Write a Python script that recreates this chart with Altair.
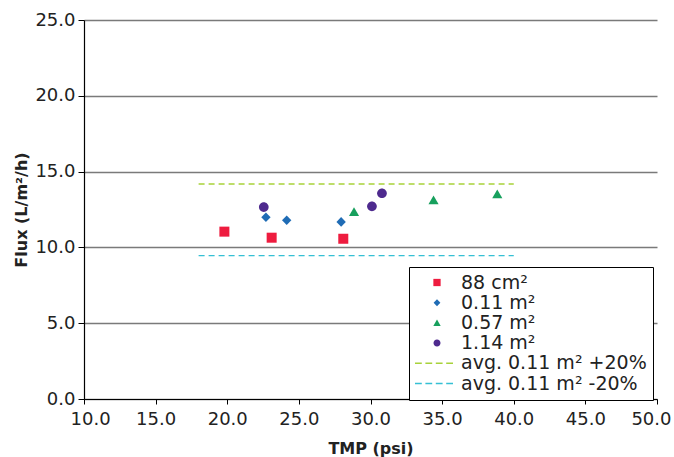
import altair as alt
import pandas as pd

# Measured flux vs. transmembrane pressure for four membrane areas
series_names = ["88 cm²", "0.11 m²", "0.57 m²", "1.14 m²"]
tmp_88cm2 = [19.8, 23.1, 28.1]
flux_88cm2 = [11.04, 10.64, 10.57]
tmp_011 = [22.7, 24.15, 27.95]
flux_011 = [11.99, 11.79, 11.68]
tmp_057 = [28.85, 34.4, 38.85]
flux_057 = [12.35, 13.13, 13.52]
tmp_114 = [22.55, 30.1, 30.8]
flux_114 = [12.66, 12.71, 13.57]

# Reference band: average of the 0.11 m² runs, +/- 20 %
band_names = ["avg. 0.11 m² +20%", "avg. 0.11 m² -20%"]
band_flux = [14.18, 9.46]
band_tmp_start = [18.0, 18.0]
band_tmp_end = [40.0, 40.0]

x_ticks = [10, 15, 20, 25, 30, 35, 40, 45, 50]
y_ticks = [0, 5, 10, 15, 20, 25]

all_names = series_names + band_names
colors = ["#EE1C3F", "#1F6CB5", "#17A05D", "#4E2A8E", "#A8D23A", "#35C0D4"]
band_colors = colors[4:]

# Marker outlines as SVG paths (unit = half the symbol size); the last two
# draw a short dashed stroke used as the legend swatch for the band lines.
sq = "M-0.91,-0.91L0.91,-0.91L0.91,0.91L-0.91,0.91Z"
dia = "M0,-0.88L0.85,0L0,0.88L-0.85,0Z"
tri = "M0,-0.82L0.92,0.78L-0.92,0.78Z"
circ = "M-0.88,0A0.88,0.88,0,1,0,0.88,0A0.88,0.88,0,1,0,-0.88,0Z"
dash = ("M-5.5,-0.17L-3.8,-0.17L-3.8,0.17L-5.5,0.17Z"
        "M-2.9,-0.17L-1.2,-0.17L-1.2,0.17L-2.9,0.17Z"
        "M-0.3,-0.17L1.4,-0.17L1.4,0.17L-0.3,0.17Z"
        "M2.3,-0.17L4.0,-0.17L4.0,0.17L2.3,0.17Z")
shapes = [sq, dia, tri, circ, dash, dash]

rows = []
for name, xs, ys in zip(series_names,
                        [tmp_88cm2, tmp_011, tmp_057, tmp_114],
                        [flux_88cm2, flux_011, flux_057, flux_114]):
    for xv, yv in zip(xs, ys):
        rows.append({"series": name, "tmp": xv, "flux": yv})
points_df = pd.DataFrame(rows)

bands_df = pd.DataFrame({
    "series": band_names,
    "tmp": band_tmp_start,
    "tmp2": band_tmp_end,
    "flux": band_flux,
    "col": band_colors,
})

FONT = "DejaVu Sans"

x_enc = alt.X(
    "tmp:Q",
    scale=alt.Scale(domain=[10, 50], nice=False, zero=False),
    axis=alt.Axis(values=x_ticks, format=".1f", title="TMP (psi)", grid=False),
)
y_enc = alt.Y(
    "flux:Q",
    scale=alt.Scale(domain=[0, 25], nice=False),
    axis=alt.Axis(values=y_ticks, format=".1f", title="Flux (L/m²/h)", grid=True),
)

legend = alt.Legend(
    title=None,
    orient="none",
    legendX=325,
    legendY=247,
    padding=6,
    strokeColor="#000000",
    fillColor="#ffffff",
    labelFont=FONT,
    labelFontSize=19,
    labelColor="#222222",
    labelLimit=400,
    symbolSize=64,
    symbolOffset=12.5,
    labelOffset=14.5,
    rowPadding=0.2,
    symbolStrokeWidth=0,
)

bands = alt.Chart(bands_df).mark_rule(strokeWidth=1.4, strokeDash=[6, 4]).encode(
    x=x_enc,
    x2="tmp2:Q",
    y=y_enc,
    stroke=alt.Stroke("col:N", scale=None),
)

points = alt.Chart(points_df).mark_point(filled=True, size=121, opacity=1).encode(
    x=x_enc,
    y=y_enc,
    color=alt.Color("series:N", scale=alt.Scale(domain=all_names, range=colors), legend=legend),
    shape=alt.Shape("series:N", scale=alt.Scale(domain=all_names, range=shapes), legend=legend),
)

chart = (
    alt.layer(bands, points)
    .properties(
        width=573,
        height=379,
        autosize="none",
        padding={"left": 84, "top": 20, "right": 17, "bottom": 58},
        background="white",
    )
    .configure_view(stroke=None)
    .configure_axis(
        labelFont=FONT,
        labelFontSize=18,
        labelColor="#222222",
        titleFont=FONT,
        titleFontSize=16,
        titleFontWeight="bold",
        titleColor="#222222",
        domainColor="#000000",
        domainWidth=1.2,
        tickColor="#000000",
        tickWidth=1,
        gridColor="#7a7a7a",
        gridWidth=1.3,
    )
    .configure_axisX(tickSize=5, labelPadding=6, titlePadding=12,
                     labelFlush=True, labelFlushOffset=14)
    .configure_axisY(tickSize=6, labelPadding=3, titlePadding=5, labelFlush=False)
)

chart.save("out.html", embed_options={"renderer": "svg", "actions": False})
